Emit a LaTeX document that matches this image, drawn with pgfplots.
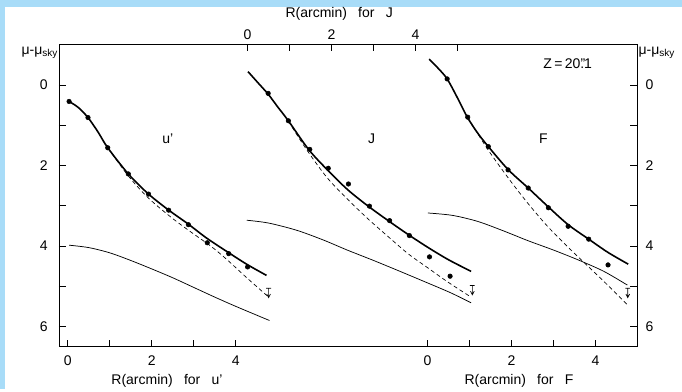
\documentclass[border=0pt]{standalone}
\usepackage{fontspec}
\setmainfont{Liberation Sans}
\usepackage{pgfplots}
\pgfplotsset{compat=1.18}
\definecolor{frameblue}{RGB}{168,220,248}
\pgfdeclareplotmark{ulim}{%
 \pgfpathmoveto{\pgfpoint{-1.8pt}{0pt}}\pgfpathlineto{\pgfpoint{1.8pt}{0pt}}%
 \pgfpathmoveto{\pgfpoint{0pt}{0pt}}\pgfpathlineto{\pgfpoint{0pt}{-7pt}}%
 \pgfpathmoveto{\pgfpoint{-1.4pt}{-4.3pt}}\pgfpathlineto{\pgfpoint{0pt}{-7pt}}\pgfpathlineto{\pgfpoint{1.4pt}{-4.3pt}}%
 \pgfusepathqstroke}
\pgfplotsset{
 common/.style={at={(0,0)}, anchor=south west, scale only axis,
   width=433.5pt, height=226.5pt, ymin=-1, ymax=6.5, y dir=reverse,
   tick align=inside, major tick length=5pt,
   tick style={line width=0.6pt, black}, axis line style={line width=0.7pt},
   ticklabel style={font=\fontsize{10.5}{12}\selectfont},
   /pgf/number format/assume math mode=true, clip=false},
 thickc/.style={black, line width=1.2pt, smooth, no marks},
 thinc/.style={black, line width=0.55pt, smooth, no marks},
 dashc/.style={black, line width=0.5pt, dash pattern=on 3pt off 2.2pt, smooth, no marks},
 pts/.style={only marks, mark=*, mark size=1.7pt, black},
 ul/.style={only marks, mark=ulim, black, line width=0.5pt},
}
\newcommand{\lab}{\fontsize{10.5}{12}\selectfont}
\begin{document}
\begin{tikzpicture}
\fill[frameblue] (-44.25pt,-31.7pt) rectangle (467.25pt,260pt);
\fill[white] (-40.5pt,-31.7pt) rectangle (467.25pt,254.75pt);
% ---------- u' panel (main axis) ----------
\begin{axis}[common, xmin=-0.21, xmax=13.55,
  xtick={0,1,2,3,4}, xticklabels={0,,2,,4}, xtick pos=left, xticklabel pos=left,
  xticklabel style={yshift=-3pt},
  ytick={0,...,6}, yticklabels={0,,2,,4,,6}, ytick pos=left, yticklabel pos=left,
  yticklabel style={xshift=-5pt}]
\addplot[thickc] coordinates {(0.03,0.41) (0.25,0.56) (0.48,0.81) (0.72,1.17) (0.95,1.56) (1.44,2.21) (1.91,2.70) (2.39,3.10) (2.86,3.45) (3.30,3.80) (3.82,4.16) (4.27,4.46) (4.73,4.73)};
\addplot[dashc] coordinates {(0.95,1.56) (1.44,2.26) (1.91,2.80) (2.45,3.28) (2.94,3.66) (3.40,4.00) (3.78,4.33) (4.25,4.78) (4.75,5.24)};
\addplot[thinc] coordinates {(0.03,3.98) (0.5,4.04) (1.0,4.17) (1.5,4.36) (2.0,4.57) (2.5,4.79) (3.0,5.03) (3.5,5.27) (4.0,5.50) (4.8,5.85)};
\addplot[pts] coordinates {(0.03,0.41) (0.48,0.81) (0.95,1.56) (1.44,2.21) (1.92,2.71) (2.40,3.11) (2.87,3.47) (3.32,3.92) (3.83,4.19) (4.28,4.52)};
\addplot[ul] coordinates {(4.78,5.05)};
\node[font=\lab] at (axis cs:6.46,-1.76) {R(arcmin)\hspace{0.8em}for\hspace{0.8em}J};
\node[font=\lab] at (axis cs:2.36,7.35) {R(arcmin)\hspace{0.8em}for\hspace{0.8em}u'};
\node[font=\lab] at (axis cs:10.74,7.35) {R(arcmin)\hspace{0.8em}for\hspace{0.8em}F};
\node[font=\lab] at (axis cs:2.38,1.33) {u'};
\node[font=\lab] at (axis cs:7.23,1.33) {J};
\node[font=\lab] at (axis cs:11.32,1.33) {F};
\node[font=\lab] at (axis cs:11.9,-0.52) {Z\,=\,20\rlap{\kern0.02em''}.1};
\node[font=\lab, anchor=east, inner sep=1pt] at (axis cs:-0.21,-0.8) {μ-μ\raisebox{-0.35ex}{\fontsize{7.5}{8}\selectfont sky}};
\node[font=\lab, anchor=west, inner sep=1pt] at (axis cs:13.55,-0.8) {μ-μ\raisebox{-0.35ex}{\fontsize{7.5}{8}\selectfont sky}};
\end{axis}
% ---------- J panel ----------
\begin{axis}[common, xmin=-4.49, xmax=9.27,
  xtick={0,...,5}, xticklabels={0,,2,,4,}, xtick pos=right, xticklabel pos=right,
  ytick=\empty]
\addplot[thickc] coordinates {(0.01,-0.33) (0.25,-0.05) (0.49,0.23) (0.72,0.55) (0.97,0.89) (1.45,1.60) (1.89,2.10) (2.38,2.60) (2.87,3.01) (3.36,3.38) (3.83,3.72) (4.30,4.04) (4.78,4.34) (5.32,4.63)};
\addplot[dashc] coordinates {(0.97,0.90) (1.40,1.60) (1.89,2.30) (2.40,2.86) (2.87,3.33) (3.36,3.78) (3.83,4.20) (4.30,4.55) (4.76,4.89) (5.32,5.27)};
\addplot[thinc] coordinates {(-0.02,3.36) (0.5,3.43) (1.17,3.61) (1.8,3.85) (2.37,4.10) (3.0,4.36) (3.56,4.60) (4.2,4.88) (4.83,5.16) (5.32,5.41)};
\addplot[pts] coordinates {(0.49,0.21) (0.97,0.89) (1.48,1.60) (1.92,2.07) (2.40,2.46) (2.90,3.01) (3.38,3.37) (3.85,3.74) (4.33,4.27) (4.82,4.75)};
\addplot[ul] coordinates {(5.35,4.98)};
\end{axis}
% ---------- F panel ----------
\begin{axis}[common, xmin=-8.77, xmax=4.99,
  xtick={0,...,4}, xticklabels={0,,2,,4}, xtick pos=left, xticklabel pos=left,
  xticklabel style={yshift=-3pt},
  ytick={0,...,6}, yticklabels={0,,2,,4,,6}, ytick pos=right, yticklabel pos=right,
  yticklabel style={xshift=3pt}]
\addplot[thickc] coordinates {(0.04,-0.64) (0.25,-0.42) (0.47,-0.15) (0.72,0.33) (0.95,0.80) (1.2,1.20) (1.45,1.53) (1.92,2.10) (2.40,2.56) (2.88,3.03) (3.35,3.47) (3.84,3.83) (4.30,4.16) (4.78,4.45)};
\addplot[dashc] coordinates {(0.95,0.80) (1.45,1.62) (1.96,2.36) (2.40,2.95) (2.85,3.50) (3.30,3.98) (3.80,4.48) (4.30,4.98) (4.78,5.48)};
\addplot[thinc] coordinates {(0.01,3.18) (0.6,3.24) (1.2,3.39) (1.8,3.62) (2.4,3.87) (3.0,4.10) (3.6,4.35) (4.2,4.63) (4.76,4.97)};
\addplot[pts] coordinates {(0.47,-0.15) (0.96,0.80) (1.45,1.53) (1.92,2.11) (2.40,2.56) (2.88,3.05) (3.35,3.51) (3.84,3.83) (4.30,4.47)};
\addplot[ul] coordinates {(4.77,5.05)};
\end{axis}
\end{tikzpicture}
\end{document}
